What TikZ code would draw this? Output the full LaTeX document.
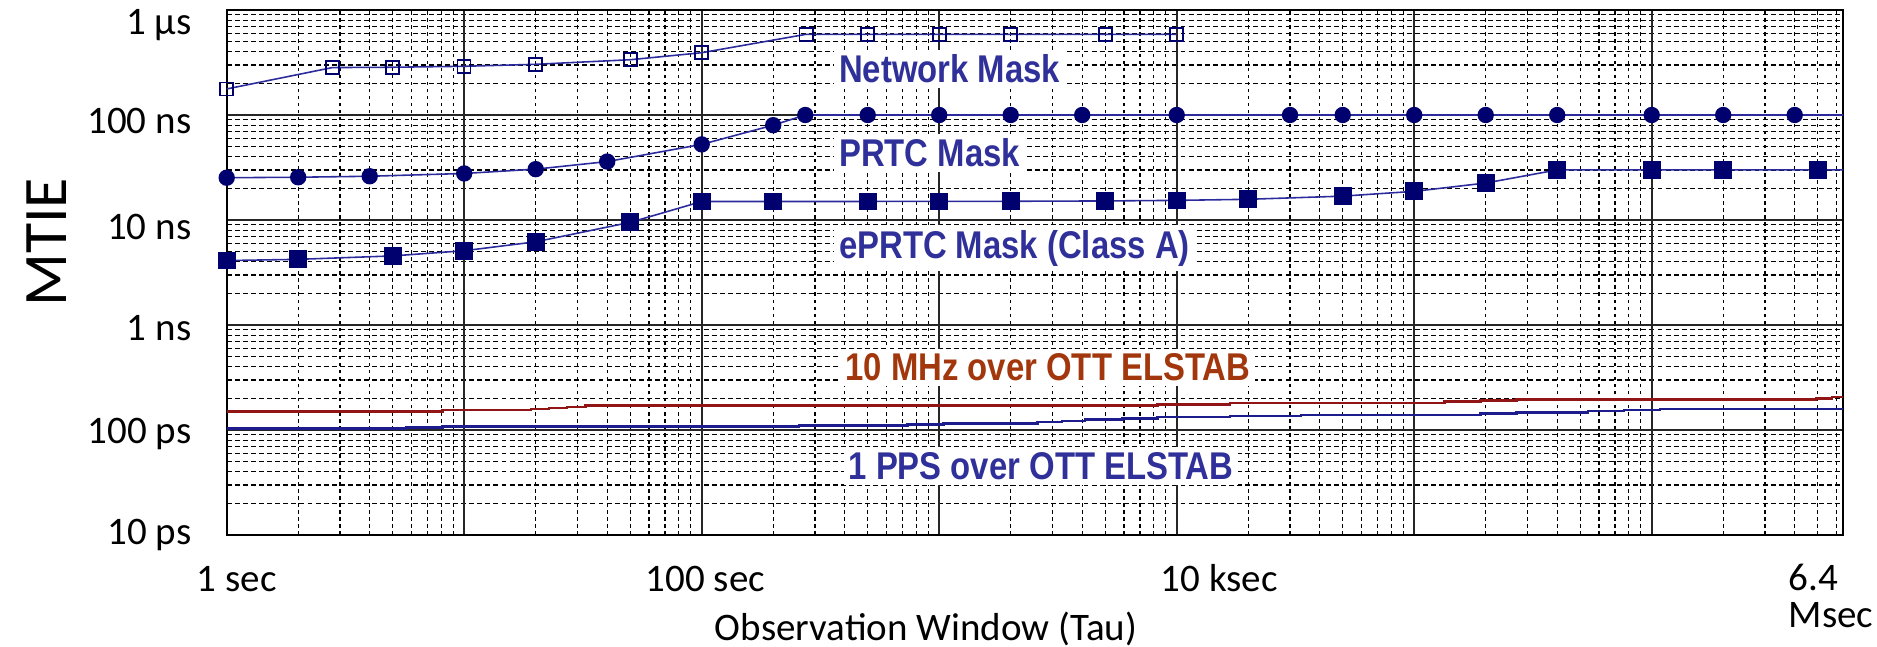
\documentclass[tikz,border=0pt]{standalone}
\usepackage{fontspec}
\setmainfont{Carlito}
\newfontfamily\maskfont{Liberation Sans}[FakeStretch=0.85]
\usetikzlibrary{plotmarks}
\definecolor{navymark}{HTML}{00006E}
\definecolor{maskblue}{HTML}{2B2B9C}
\definecolor{labelblue}{HTML}{30309A}
\definecolor{labelrust}{HTML}{A2360C}
\definecolor{ottred}{HTML}{921515}
\definecolor{ottblue}{HTML}{1C1C8C}
\newcommand\taumax{6.80618}

\begin{document}
\begin{tikzpicture}[x=2.375cm, y=1.05cm,
    minorh/.style={line width=0.35pt, dash pattern=on 1.4pt off 0.9pt},
    minorv/.style={line width=0.35pt, dash pattern=on 1pt off 1pt},
    major/.style={line width=0.5pt, draw=black!85},
    frame/.style={line width=0.6pt},
    ytick/.style={anchor=base east, inner sep=0pt, font=\fontsize{11.1}{13}\selectfont},
    xtick/.style={anchor=base west, inner sep=0pt, font=\fontsize{11.1}{13}\selectfont},
    masklbl/.style={anchor=base west, fill=white, inner sep=1.4pt, text=labelblue, font=\maskfont\bfseries\fontsize{11}{13}\selectfont},
    mask/.style={line width=0.45pt, draw=maskblue},
    ott/.style={line width=0.8pt}
]
    \useasboundingbox (-2.267cm,-1.11cm) rectangle (16.503cm,5.35cm);

    % Grid
    \foreach \d in {0,...,4}
        \foreach \k in {2,...,9}
            \draw[minorh] (0,{\d+log10(\k)}) -- (\taumax,{\d+log10(\k)});
    \foreach \d in {0,...,5}
        \foreach \k in {2,...,9}
            \draw[minorv] ({\d+log10(\k)},0) -- ({\d+log10(\k)},5);
    \foreach \k in {2,...,6}
        \draw[minorv] ({6+log10(\k)},0) -- ({6+log10(\k)},5);
    \foreach \d in {1,...,4}
        \draw[major] (0,\d) -- (\taumax,\d);
    \foreach \d in {1,...,6}
        \draw[major] (\d,0) -- (\d,5);
    \draw[frame] (0,0) rectangle (\taumax,5);

    % Axis labels
    \foreach \yb/\txt [count=\i] in {4.762/1 µs, 3.826/100 ns, 2.810/10 ns, 1.857/1 ns, 0.873/100 ps, -0.095/10 ps}
        \node[ytick] (ylab\i) at (-0.146,\yb) {\txt};
    \node[xtick] (xlab1) at (-0.128,-0.540) {1 sec};
    \node[xtick] (xlab2) at (1.761,-0.540) {100 sec};
    \node[xtick] (xlab3) at (3.930,-0.540) {10 ksec};
    \node[anchor=north west, inner sep=0pt, align=left, font=\fontsize{11.1}{10.6}\selectfont] (xlab4) at (6.574,-0.270) {6.4\\Msec};
    \node[anchor=base, inner sep=0pt, font=\fontsize{11.1}{13}\selectfont] (xtitle) at (2.945,-1.0) {Observation Window (Tau)};
    \node[rotate=90, inner sep=0pt, font=\fontsize{17.6}{20}\selectfont] (ytitle) at (-0.756,2.786) {MTIE};

    % Masks
    \draw[mask] plot[mark=square, mark size=1.85pt, mark options={draw=navymark, fill=white, line width=0.45pt}]
        coordinates {(0,{log10(177)+2}) (0.445,{log10(283)+2}) (0.69897,{log10(285)+2}) (1,{log10(291)+2})
        (1.30103,{log10(304)+2}) (1.69897,{log10(336)+2}) (2,{log10(392)+2}) (2.44,{log10(587)+2})
        (2.69897,{log10(587)+2}) (3,{log10(587)+2}) (3.30103,{log10(587)+2}) (3.69897,{log10(587)+2}) (4,{log10(587)+2})};
    \draw[mask] plot[mark=*, mark size=2.1pt, mark indices={1,...,22}, mark options={draw=navymark, fill=navymark}]
        coordinates {(0,{log10(25.275)+2}) (0.30103,{log10(25.55)+2}) (0.60206,{log10(26.1)+2}) (1,{log10(27.75)+2})
        (1.30103,{log10(30.5)+2}) (1.60206,{log10(36)+2}) (2,{log10(52.5)+2}) (2.30103,{log10(80)+2})
        (2.43616,4) (2.69897,4) (3,4) (3.30103,4) (3.60206,4) (4,4) (4.47712,4) (4.69897,4)
        (5,4) (5.30103,4) (5.60206,4) (6,4) (6.30103,4) (6.60206,4) (\taumax,4)};
    \draw[mask] plot[mark=square*, mark size=2.3pt, mark indices={1,...,21}, mark options={draw=navymark, fill=navymark}]
        coordinates {(0,{log10(4.11)+2}) (0.30103,{log10(4.22)+2}) (0.69897,{log10(4.55)+2}) (1,{log10(5.1)+2})
        (1.30103,{log10(6.2)+2}) (1.69897,{log10(9.5)+2}) (2,{log10(15)+2}) (2.30103,{log10(15.01)+2})
        (2.69897,{log10(15.02)+2}) (3,{log10(15.04)+2}) (3.30103,{log10(15.08)+2}) (3.69897,{log10(15.19)+2})
        (4,{log10(15.38)+2}) (4.30103,{log10(15.75)+2}) (4.69897,{log10(16.88)+2}) (5,{log10(18.75)+2})
        (5.30103,{log10(22.5)+2}) (5.60206,{log10(30)+2}) (6,{log10(30)+2}) (6.30103,{log10(30)+2})
        (6.69897,{log10(30)+2}) (\taumax,{log10(30)+2})};

    % Measurements
    \draw[ott, ottred] plot[const plot] coordinates {(0,1.178) (0.907,1.190) (1.281,1.200) (1.357,1.210)
        (1.433,1.219) (1.509,1.231) (3.920,1.245) (4.224,1.257) (5.129,1.270) (5.280,1.283) (5.429,1.292)
        (6.692,1.302) (6.759,1.314) (\taumax,1.314)};
    \draw[ott, ottblue] plot[const plot] coordinates {(0,1.012) (0.755,1.022) (0.907,1.031) (2.410,1.045)
        (2.865,1.054) (3.018,1.064) (3.414,1.076) (3.517,1.086) (3.614,1.098) (3.772,1.111) (3.920,1.124)
        (4.224,1.133) (4.523,1.143) (5.280,1.155) (5.429,1.169) (5.732,1.181) (5.883,1.190) (6.035,1.200)
        (\taumax,1.200)};

    % Curve labels
    \node[masklbl] (netlbl) at (2.555,4.308) {Network Mask};
    \node[masklbl] (prtclbl) at (2.555,3.508) {PRTC Mask};
    \node[masklbl] (eprtclbl) at (2.555,2.635) {ePRTC Mask (Class A)};
    \node[masklbl, text=labelrust] (mhzlbl) at (2.582,1.470) {10 MHz over OTT ELSTAB};
    \node[masklbl] (ppslbl) at (2.595,0.530) {1 PPS over OTT ELSTAB};
\end{tikzpicture}
\end{document}
